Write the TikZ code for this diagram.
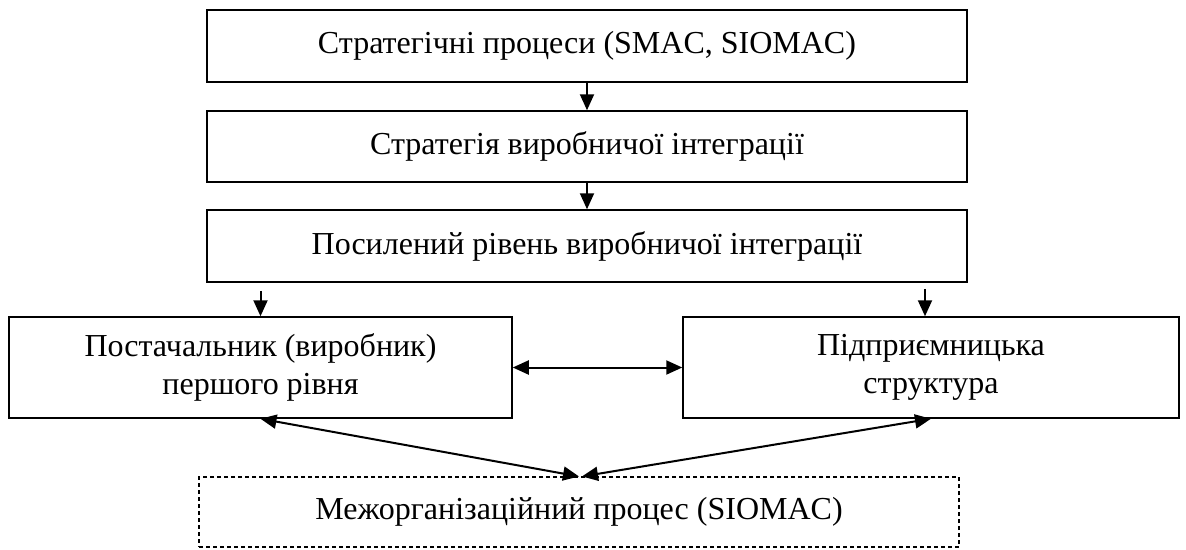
\documentclass[tikz,border=0pt]{standalone}
\usepackage{fontspec}
\setmainfont{Liberation Serif}
\usetikzlibrary{arrows.meta}
\begin{document}
\begin{tikzpicture}[x=1pt,y=-1pt,
  box/.style={draw,line width=1.5pt,rectangle,inner sep=0pt,align=center,font=\fontsize{32}{38}\selectfont},
  dbox/.style={draw,line width=1.1pt,dash pattern=on 4pt off 3pt,rectangle,inner sep=0pt,align=center,font=\fontsize{32}{38}\selectfont},
  arr/.style={line width=2pt,-{Triangle[length=16pt,width=14pt]}},
  darr/.style={line width=2pt,{Triangle[length=16pt,width=14pt]}-{Triangle[length=16pt,width=14pt]}}]
\useasboundingbox (0,0) rectangle (1186,549);
\node[box,minimum width=760pt,minimum height=72pt] (b1) at (587,46) {Стратегічні процеси (SMAC, SIOMAC)};
\node[box,minimum width=760pt,minimum height=71pt] (b2) at (587,146.5) {Стратегія виробничої інтеграції};
\node[box,minimum width=760pt,minimum height=72pt] (b3) at (587,246) {Посилений рівень виробничої інтеграції};
\node[box,minimum width=503pt,minimum height=101pt] (b4) at (260.5,367.5) {Постачальник (виробник)\\першого рівня};
\node[box,minimum width=496pt,minimum height=101pt] (b5) at (931,367.5) {Підприємницька\\структура};
\node[dbox,minimum width=760pt,minimum height=70pt] (b6) at (579,512) {Межорганізаційний процес (SIOMAC)};
\draw[arr] (b1.south) -- (b2.north);
\draw[arr] (b2.south) -- (b3.north);
\draw[arr] ([yshift=-8pt]b3.south -| b4.north) -- (b4.north);
\draw[arr] ([xshift=-6pt,yshift=-6pt]b3.south -| b5.north) -- ([xshift=-6pt]b5.north);
\draw[darr] (b4.east) -- (b5.west);
\draw[darr] (b4.south) -- (b6.north);
\draw[darr] (b5.south) -- ([xshift=3pt]b6.north);
\end{tikzpicture}
\end{document}
